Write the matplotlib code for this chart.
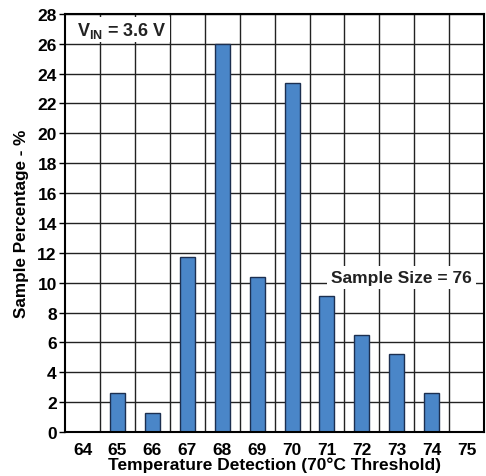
import matplotlib
matplotlib.use("Agg")
import matplotlib.pyplot as plt
import numpy as np

plt.rcParams['font.family'] = ['Liberation Sans', 'DejaVu Sans']
plt.rcParams['font.weight'] = 'bold'
plt.rcParams['mathtext.fontset'] = 'custom'
plt.rcParams['mathtext.rm'] = 'Liberation Sans:bold'
plt.rcParams['mathtext.bf'] = 'Liberation Sans:bold'

temps = [64, 65, 66, 67, 68, 69, 70, 71, 72, 73, 74, 75]
pct = [0, 2.6, 1.3, 11.7, 26.0, 10.4, 23.4, 9.1, 6.5, 5.2, 2.6, 0]

fig = plt.figure(figsize=(4.86, 4.77), dpi=100)
ax = fig.add_axes([0.134, 0.092, 0.862, 0.877])

pos = np.arange(len(temps))
ax.bar(pos, pct, width=0.43, color='#4a86c8', edgecolor='#1c2f50', linewidth=1.0, zorder=3)

ax.set_xlim(-0.5, len(temps) - 0.5)
ax.set_ylim(0, 28)
ax.set_yticks(range(0, 29, 2))
ax.set_xticks(pos)
ax.set_xticklabels([str(t) for t in temps])
ax.set_xticks(pos[:-1] + 0.5, minor=True)
ax.tick_params(axis='x', which='both', length=0, labelsize=12.5, pad=7)
ax.tick_params(axis='y', length=4, width=1, labelsize=12.5, pad=2)

ax.grid(axis='y', which='major', color='#222222', linewidth=1.0, zorder=1)
ax.grid(axis='x', which='minor', color='#222222', linewidth=1.0, zorder=1)
for s in ax.spines.values():
    s.set_linewidth(1.5)
    s.set_zorder(4)

ax.set_xlabel('Temperature Detection (70°C Threshold)', fontsize=12.5, fontweight='bold', labelpad=0)
ax.set_ylabel('Sample Percentage - %', fontsize=12.3, fontweight='bold', labelpad=6)

ax.text(-0.15, 27.6, r'V$_{\mathrm{IN}}$ = 3.6 V', fontsize=13, fontweight='bold',
        ha='left', va='top', color='#222222', zorder=5,
        bbox=dict(facecolor='white', edgecolor='none', pad=2))
ax.text(9.13, 10.35, 'Sample Size = 76', fontsize=12.5, fontweight='bold',
        ha='center', va='center', color='#222222', zorder=5,
        bbox=dict(facecolor='white', edgecolor='none', pad=3))

fig.savefig('out.png', dpi=100)
